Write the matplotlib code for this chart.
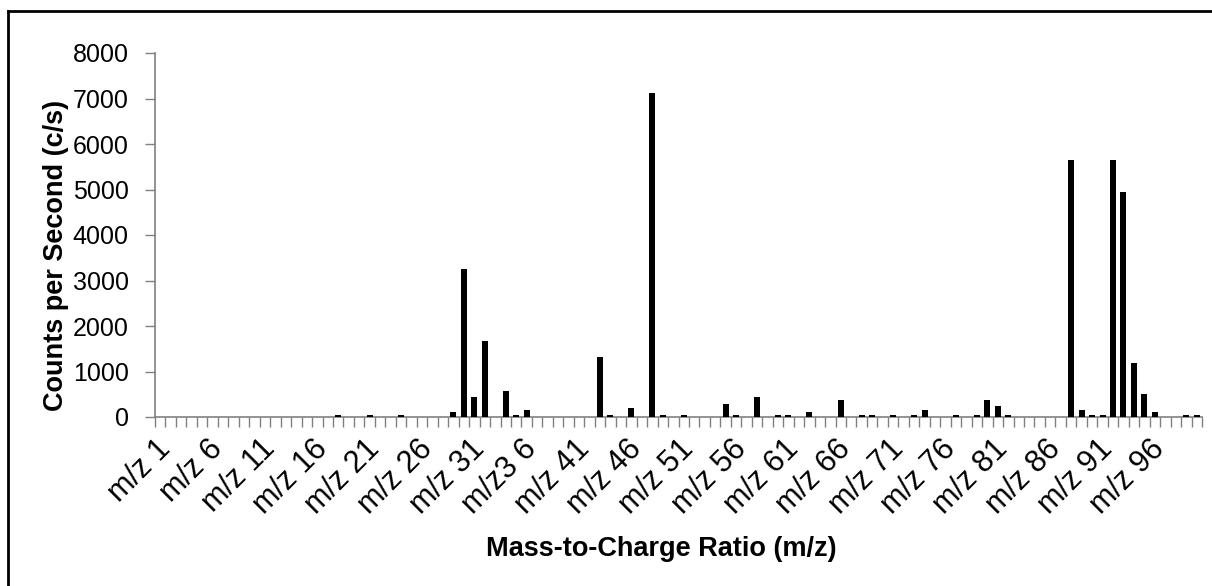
import numpy as np
import matplotlib
matplotlib.use("Agg")
import matplotlib.pyplot as plt
import matplotlib.transforms as mtransforms
from matplotlib.lines import Line2D

plt.rcParams['font.family'] = ['Liberation Sans', 'DejaVu Sans']

# m/z 1 .. m/z 100, counts per second (only non-zero entries listed)
mz = np.arange(1, 101)
nonzero_mz = [18, 21, 24, 29, 30, 31, 32, 34, 35, 36, 43, 44, 46, 48, 49, 51,
              55, 56, 58, 60, 61, 63, 66, 68, 69, 71, 73, 74, 77, 79, 80, 81,
              82, 88, 89, 90, 91, 92, 93, 94, 95, 96, 99, 100]
nonzero_cps = [50, 50, 50, 100, 3250, 450, 1675, 580, 50, 145, 1320, 50, 190,
               7115, 50, 50, 280, 50, 450, 50, 50, 100, 365, 50, 50, 50, 50,
               145, 50, 50, 365, 235, 50, 5650, 145, 50, 50, 5650, 4950, 1190,
               495, 100, 50, 50]

counts = np.zeros(len(mz))
for m, c in zip(nonzero_mz, nonzero_cps):
    counts[m - 1] = c

# every 5th category gets a label (the original has a typo on 36)
label_mz = list(range(1, 100, 5))
tick_labels = [f"m/z {m}" for m in label_mz]
tick_labels[label_mz.index(36)] = "m/z3 6"

W, H = 1212, 586
fig = plt.figure(figsize=(W / 100, H / 100), dpi=100)
ax = fig.add_axes([155 / W, 1 - 417 / H, (1202 - 155) / W, (417 - 53) / H])

ax.bar(mz, counts, width=0.57, color='black', zorder=3)

ax.set_xlim(0.5, 100.5)
ax.set_ylim(0, 8000)
ax.set_yticks(np.arange(0, 8001, 1000))
ax.tick_params(axis='y', labelsize=18, length=7, width=1, color='#808080',
               pad=12)

# ticks on category boundaries, labels at category centres
ax.set_xticks(np.arange(0.5, 101, 1))
ax.set_xticklabels([])
ax.tick_params(axis='x', which='major', length=7, width=1, color='#808080')
ax.set_xticks(label_mz, minor=True)
ax.set_xticklabels(tick_labels, minor=True, rotation=45, ha='right',
                   va='top', rotation_mode='anchor')
ax.tick_params(axis='x', which='minor', length=0, pad=12, labelsize=22)
shift = mtransforms.ScaledTranslation(-5 / 100, 0, fig.dpi_scale_trans)
for lbl in ax.get_xticklabels(minor=True):
    lbl.set_transform(lbl.get_transform() + shift)

for s in ['top', 'right']:
    ax.spines[s].set_visible(False)
for s in ['left', 'bottom']:
    ax.spines[s].set_color('#808080')
    ax.spines[s].set_linewidth(1.2)

fig.text(56 / W, 1 - 255 / H, "Counts per Second (c/s)", rotation=90,
         ha='center', va='center', fontsize=19.5, fontweight='bold')
fig.text(661 / W, 1 - 549 / H, "Mass-to-Charge Ratio (m/z)",
         ha='center', va='center', fontsize=19.5, fontweight='bold')

# outer chart frame (only left and top edges visible in the crop)
fig.add_artist(Line2D([8 / W, 8 / W], [0, 1 - 11 / H], color='black',
                      lw=2, transform=fig.transFigure))
fig.add_artist(Line2D([8 / W, 1], [1 - 11 / H, 1 - 11 / H], color='black',
                      lw=2, transform=fig.transFigure))

fig.savefig("out.png", dpi=100)
